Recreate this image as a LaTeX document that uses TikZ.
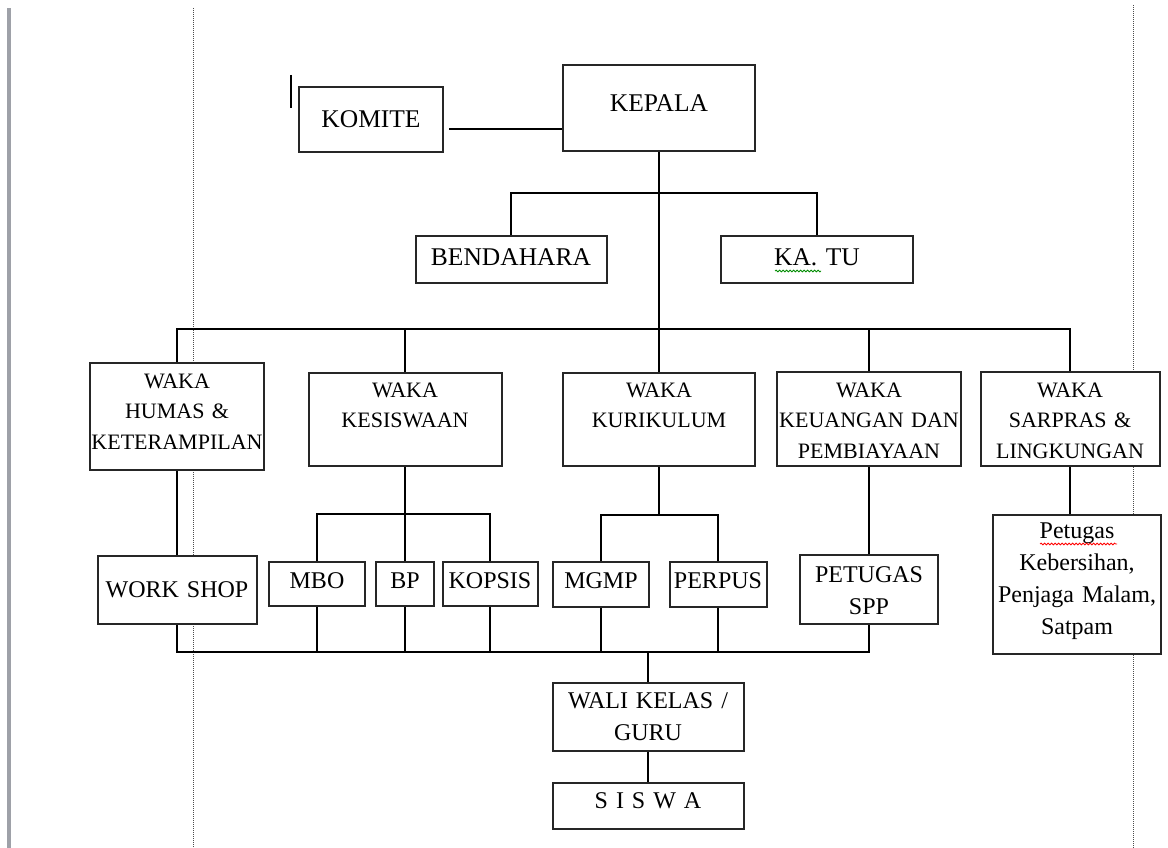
\documentclass[tikz,border=0pt]{standalone}
\usepackage{fontspec}
\setmainfont{Liberation Serif}
\usepackage{tikz}
\usetikzlibrary{decorations.pathmorphing}

\definecolor{barGray}{RGB}{158,161,168}

\begin{document}
\begin{tikzpicture}
	[x=1pt,y=-1pt,line width=1.8pt,
		base box/.style={draw=black!85,fill=white,line width=2pt,inner sep=0pt,align=center},
		top box/.style={base box,font=\fontsize{25.5}{31}\selectfont},
		waka box/.style={base box,font=\fontsize{22}{30.5}\selectfont},
		unit box/.style={base box,font=\fontsize{24}{32}\selectfont},
		margin line/.style={black!70,line width=1pt,dash pattern=on 1pt off 1pt},
		spell mark/.style={line width=0.8pt,decorate,decoration={snake,amplitude=0.9pt,segment length=3.5pt}}]

	\useasboundingbox (0,0) rectangle (1168,848);

	% page margins
	\fill[barGray] (7,8) rectangle (11,848);
	\draw[margin line] (193,8) -- (193,848);
	\draw[margin line] (1133,5) -- (1133,848);
	\draw[line width=2pt] (291,75) -- (291,108);

	\node[top box,text width=144pt,text height=41pt,text depth=24pt] (komite) at (371,119.5) {KOMITE};
	\node[top box,text width=192pt,text height=47pt,text depth=39pt] (kepala) at (659,108) {KEPALA};
	\node[top box,text width=191pt,text height=29pt,text depth=18pt] (bendahara) at (511,259.5) {BENDAHARA};
	\node[top box,text width=192pt,text height=29pt,text depth=18pt] (katu) at (817,259.5) {KA. TU};

	\node[waka box,text width=174pt,text height=25pt,text depth=82pt] (humas) at (177,416.5) {WAKA\\HUMAS \&\\KETERAMPILAN};
	\node[waka box,text width=193pt,text height=24pt,text depth=69pt] (kesiswaan) at (405,419.5) {WAKA\\KESISWAAN};
	\node[waka box,text width=192pt,text height=24pt,text depth=69pt] (kurikulum) at (659,419.5) {WAKA\\KURIKULUM};
	\node[waka box,text width=184pt,text height=25pt,text depth=69pt] (keuangan) at (869,419) {WAKA\\KEUANGAN DAN\\PEMBIAYAAN};
	\node[waka box,text width=179pt,text height=25pt,text depth=69pt] (sarpras) at (1070,419) {WAKA\\SARPRAS \&\\LINGKUNGAN};

	\node[unit box,text width=159pt,text height=41pt,text depth=27pt] (workshop) at (177,590) {WORK SHOP};
	\node[unit box,text width=96pt,text height=26pt,text depth=18pt] (mbo) at (317,584) {MBO};
	\node[unit box,text width=58pt,text height=26pt,text depth=18pt] (bp) at (405,584) {BP};
	\node[unit box,text width=95pt,text height=26pt,text depth=18pt] (kopsis) at (490,584) {KOPSIS};
	\node[unit box,text width=96pt,text height=26pt,text depth=19pt] (mgmp) at (601,584.5) {MGMP};
	\node[unit box,text width=97pt,text height=26pt,text depth=19pt] (perpus) at (718,584.5) {PERPUS};
	\node[unit box,text width=138pt,text height=27pt,text depth=42pt] (spp) at (869,589.5) {PETUGAS\\SPP};
	\node[unit box,text width=168pt,text height=23pt,text depth=116pt] (petugas) at (1077,584.5) {Petugas\\Kebersihan,\\Penjaga Malam,\\Satpam};

	\node[unit box,text width=191pt,text height=25pt,text depth=43pt] (wali) at (648,717) {WALI KELAS /\\GURU};
	\node[unit box,text width=191pt,text height=25pt,text depth=21pt] (siswa) at (648,806) {S I S W A};

	% spelling marks
	\draw[spell mark,green!55!black] (775,271) -- (821,271);
	\draw[spell mark,red] (1040,544) -- (1117,544);

	\coordinate (bus) at (659,329);
	\coordinate (bot) at (648,652);

	\draw ([xshift=5pt]komite.east |- 0,129) -- (kepala.west |- 0,129);
	\draw (kepala.south) -- (bus);
	\draw (bendahara.north) |- (kepala.south |- 0,193) -| (katu.north);

	\draw (humas.north) |- (bus) -| (sarpras.north);
	\draw (kesiswaan.north) -- (kesiswaan.north |- bus);
	\draw (kurikulum.north) -- (bus);
	\draw (keuangan.north) -- (keuangan.north |- bus);

	\draw (humas.south) -- (workshop.north);
	\draw (kesiswaan.south) -- (kesiswaan.south |- 0,514);
	\draw (mbo.north) |- (kesiswaan.south |- 0,514) -| (kopsis.north);
	\draw (bp.north) -- (bp.north |- 0,514);
	\draw (kurikulum.south) -- (kurikulum.south |- 0,515);
	\draw (mgmp.north) |- (kurikulum.south |- 0,515) -| (perpus.north);
	\draw (keuangan.south) -- (keuangan.south |- spp.north);
	\draw (sarpras.south) -- (sarpras.south |- petugas.north);

	\draw (workshop.south) |- (bot) -| (spp.south);
	\draw (mbo.south) -- (mbo.south |- bot);
	\draw (bp.south) -- (bp.south |- bot);
	\draw (kopsis.south) -- (kopsis.south |- bot);
	\draw (mgmp.south) -- (mgmp.south |- bot);
	\draw (perpus.south) -- (perpus.south |- bot);
	\draw (bot) -- (wali.north);
	\draw (wali.south) -- (siswa.north);

\end{tikzpicture}
\end{document}
